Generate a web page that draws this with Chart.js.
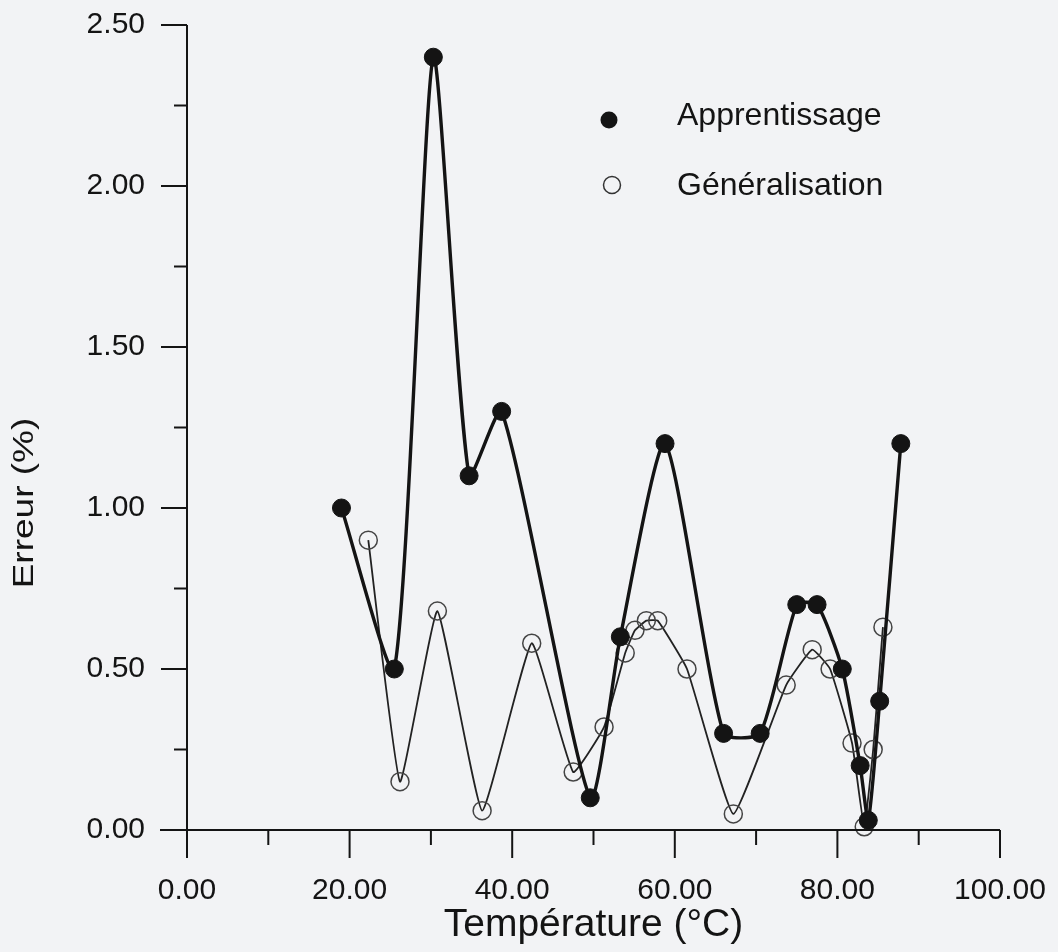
<!DOCTYPE html>
<html>
<head>
<meta charset="utf-8">
<script src="https://cdn.jsdelivr.net/npm/chart.js@4.4.1/dist/chart.umd.min.js"></script>
<style>
  html, body { margin: 0; padding: 0; background: #f2f3f5; }
  #wrap { width: 1058px; height: 952px; position: relative; }
</style>
</head>
<body>
<div id="wrap"><canvas id="c" width="1058" height="952"></canvas></div>
<script>
// ---- Data ----
const appX = [19.0, 25.5, 30.3, 34.7, 38.7, 49.6, 53.3, 58.8, 66.0, 70.5, 75.0, 77.5, 80.6, 82.8, 83.8, 85.2, 87.8];
const appY = [1.00, 0.50, 2.40, 1.10, 1.30, 0.10, 0.60, 1.20, 0.30, 0.30, 0.70, 0.70, 0.50, 0.20, 0.03, 0.40, 1.20];

const genX = [22.3, 26.2, 30.8, 36.3, 42.4, 47.5, 51.3, 53.9, 55.1, 56.5, 57.9, 61.5, 67.2, 73.7, 76.9, 79.1, 81.8, 83.3, 84.4, 85.6];
const genY = [0.90, 0.15, 0.68, 0.06, 0.58, 0.18, 0.32, 0.55, 0.62, 0.65, 0.65, 0.50, 0.05, 0.45, 0.56, 0.50, 0.27, 0.01, 0.25, 0.63];

const seriesNames = ['Apprentissage', 'Généralisation'];
const xTitle = 'Température (°C)';
const yTitle = 'Erreur (%)';

const INK = '#141414';
const FONT = '"Liberation Sans", Arial, Helvetica, sans-serif';

function pts(xs, ys) { return xs.map((x, i) => ({ x: x, y: ys[i] })); }

const axisPlugin = {
  id: 'axisPlugin',
  beforeDraw(chart) {
    const ctx = chart.ctx;
    ctx.save();
    ctx.fillStyle = '#f2f3f5';
    ctx.fillRect(0, 0, chart.width, chart.height);
    ctx.restore();
  },
  afterDraw(chart) {
    const ctx = chart.ctx;
    const xs = chart.scales.x, ys = chart.scales.y;
    const x0 = xs.getPixelForValue(0), x1 = xs.getPixelForValue(100);
    const y0 = ys.getPixelForValue(0), y1 = ys.getPixelForValue(2.5);
    ctx.save();
    ctx.strokeStyle = INK;
    ctx.lineWidth = 2;
    ctx.beginPath();
    ctx.moveTo(x0 - 27, y0); ctx.lineTo(x1, y0);
    ctx.moveTo(x0, y1); ctx.lineTo(x0, y0);
    for (let v = 0; v <= 100; v += 10) {
      const px = xs.getPixelForValue(v);
      const len = (v % 20 === 0) ? 28 : 15;
      ctx.moveTo(px, y0); ctx.lineTo(px, y0 + len);
    }
    for (let k = 0; k <= 10; k++) {
      const v = k * 0.25;
      const py = ys.getPixelForValue(v);
      const len = (k % 2 === 0) ? 26 : 13;
      ctx.moveTo(x0, py); ctx.lineTo(x0 - len, py);
    }
    ctx.stroke();

    // y axis title (rotated)
    ctx.save();
    ctx.translate(33, 503);
    ctx.rotate(-Math.PI / 2);
    ctx.scale(1, 0.8);
    ctx.font = '37px ' + FONT;
    ctx.fillStyle = INK;
    ctx.textAlign = 'center';
    ctx.textBaseline = 'alphabetic';
    ctx.fillText(yTitle, 0, 0);
    ctx.restore();

    // legend
    ctx.fillStyle = INK;
    ctx.beginPath();
    ctx.arc(609, 120, 8.5, 0, Math.PI * 2);
    ctx.fill();
    ctx.lineWidth = 1.5;
    ctx.strokeStyle = '#333';
    ctx.beginPath();
    ctx.arc(612, 185, 8.5, 0, Math.PI * 2);
    ctx.stroke();
    ctx.font = '32px ' + FONT;
    ctx.textAlign = 'left';
    ctx.textBaseline = 'middle';
    ctx.fillStyle = INK;
    ctx.fillText(seriesNames[0], 677, 116);
    ctx.fillText(seriesNames[1], 677, 186);
    ctx.restore();
  }
};

new Chart(document.getElementById('c'), {
  type: 'line',
  data: {
    datasets: [
      {
        label: seriesNames[0],
        data: pts(appX, appY),
        borderColor: INK,
        borderWidth: 3.4,
        backgroundColor: INK,
        pointBackgroundColor: INK,
        pointBorderColor: INK,
        pointBorderWidth: 1,
        pointRadius: 9,
        tension: 0.2,
        fill: false,
        clip: false
      },
      {
        label: seriesNames[1],
        data: pts(genX, genY),
        borderColor: '#222',
        borderWidth: 1.8,
        backgroundColor: 'rgba(0,0,0,0)',
        pointBackgroundColor: 'rgba(0,0,0,0)',
        pointBorderColor: '#444',
        pointBorderWidth: 1.5,
        pointRadius: 9,
        tension: 0.12,
        fill: false,
        clip: false
      }
    ]
  },
  options: {
    responsive: false,
    animation: false,
    devicePixelRatio: 1,
    layout: { padding: { left: 0, right: 58, top: 25, bottom: 0 } },
    plugins: {
      legend: { display: false },
      tooltip: { enabled: false }
    },
    scales: {
      x: {
        type: 'linear',
        min: 0, max: 100,
        afterFit(s) { s.height = 122; },
        grid: { display: true, drawOnChartArea: false, drawTicks: true, tickLength: 43, color: 'rgba(0,0,0,0)' },
        border: { display: false },
        ticks: {
          stepSize: 20,
          padding: 0,
          color: INK,
          font: { family: FONT, size: 30 },
          maxRotation: 0,
          callback: v => Number(v).toFixed(2)
        },
        title: {
          display: true,
          text: xTitle,
          color: INK,
          font: { family: FONT, size: 39 },
          padding: { top: 0, bottom: 3 }
        }
      },
      y: {
        type: 'linear',
        min: 0, max: 2.5,
        afterFit(s) { s.width = 187; },
        grid: { display: true, drawOnChartArea: false, drawTicks: true, tickLength: 42, color: 'rgba(0,0,0,0)' },
        border: { display: false },
        ticks: {
          stepSize: 0.5,
          padding: 0,
          color: INK,
          font: { family: FONT, size: 30 },
          callback: v => Number(v).toFixed(2)
        },
        title: { display: false }
      }
    }
  },
  plugins: [axisPlugin]
});
</script>
</body>
</html>
